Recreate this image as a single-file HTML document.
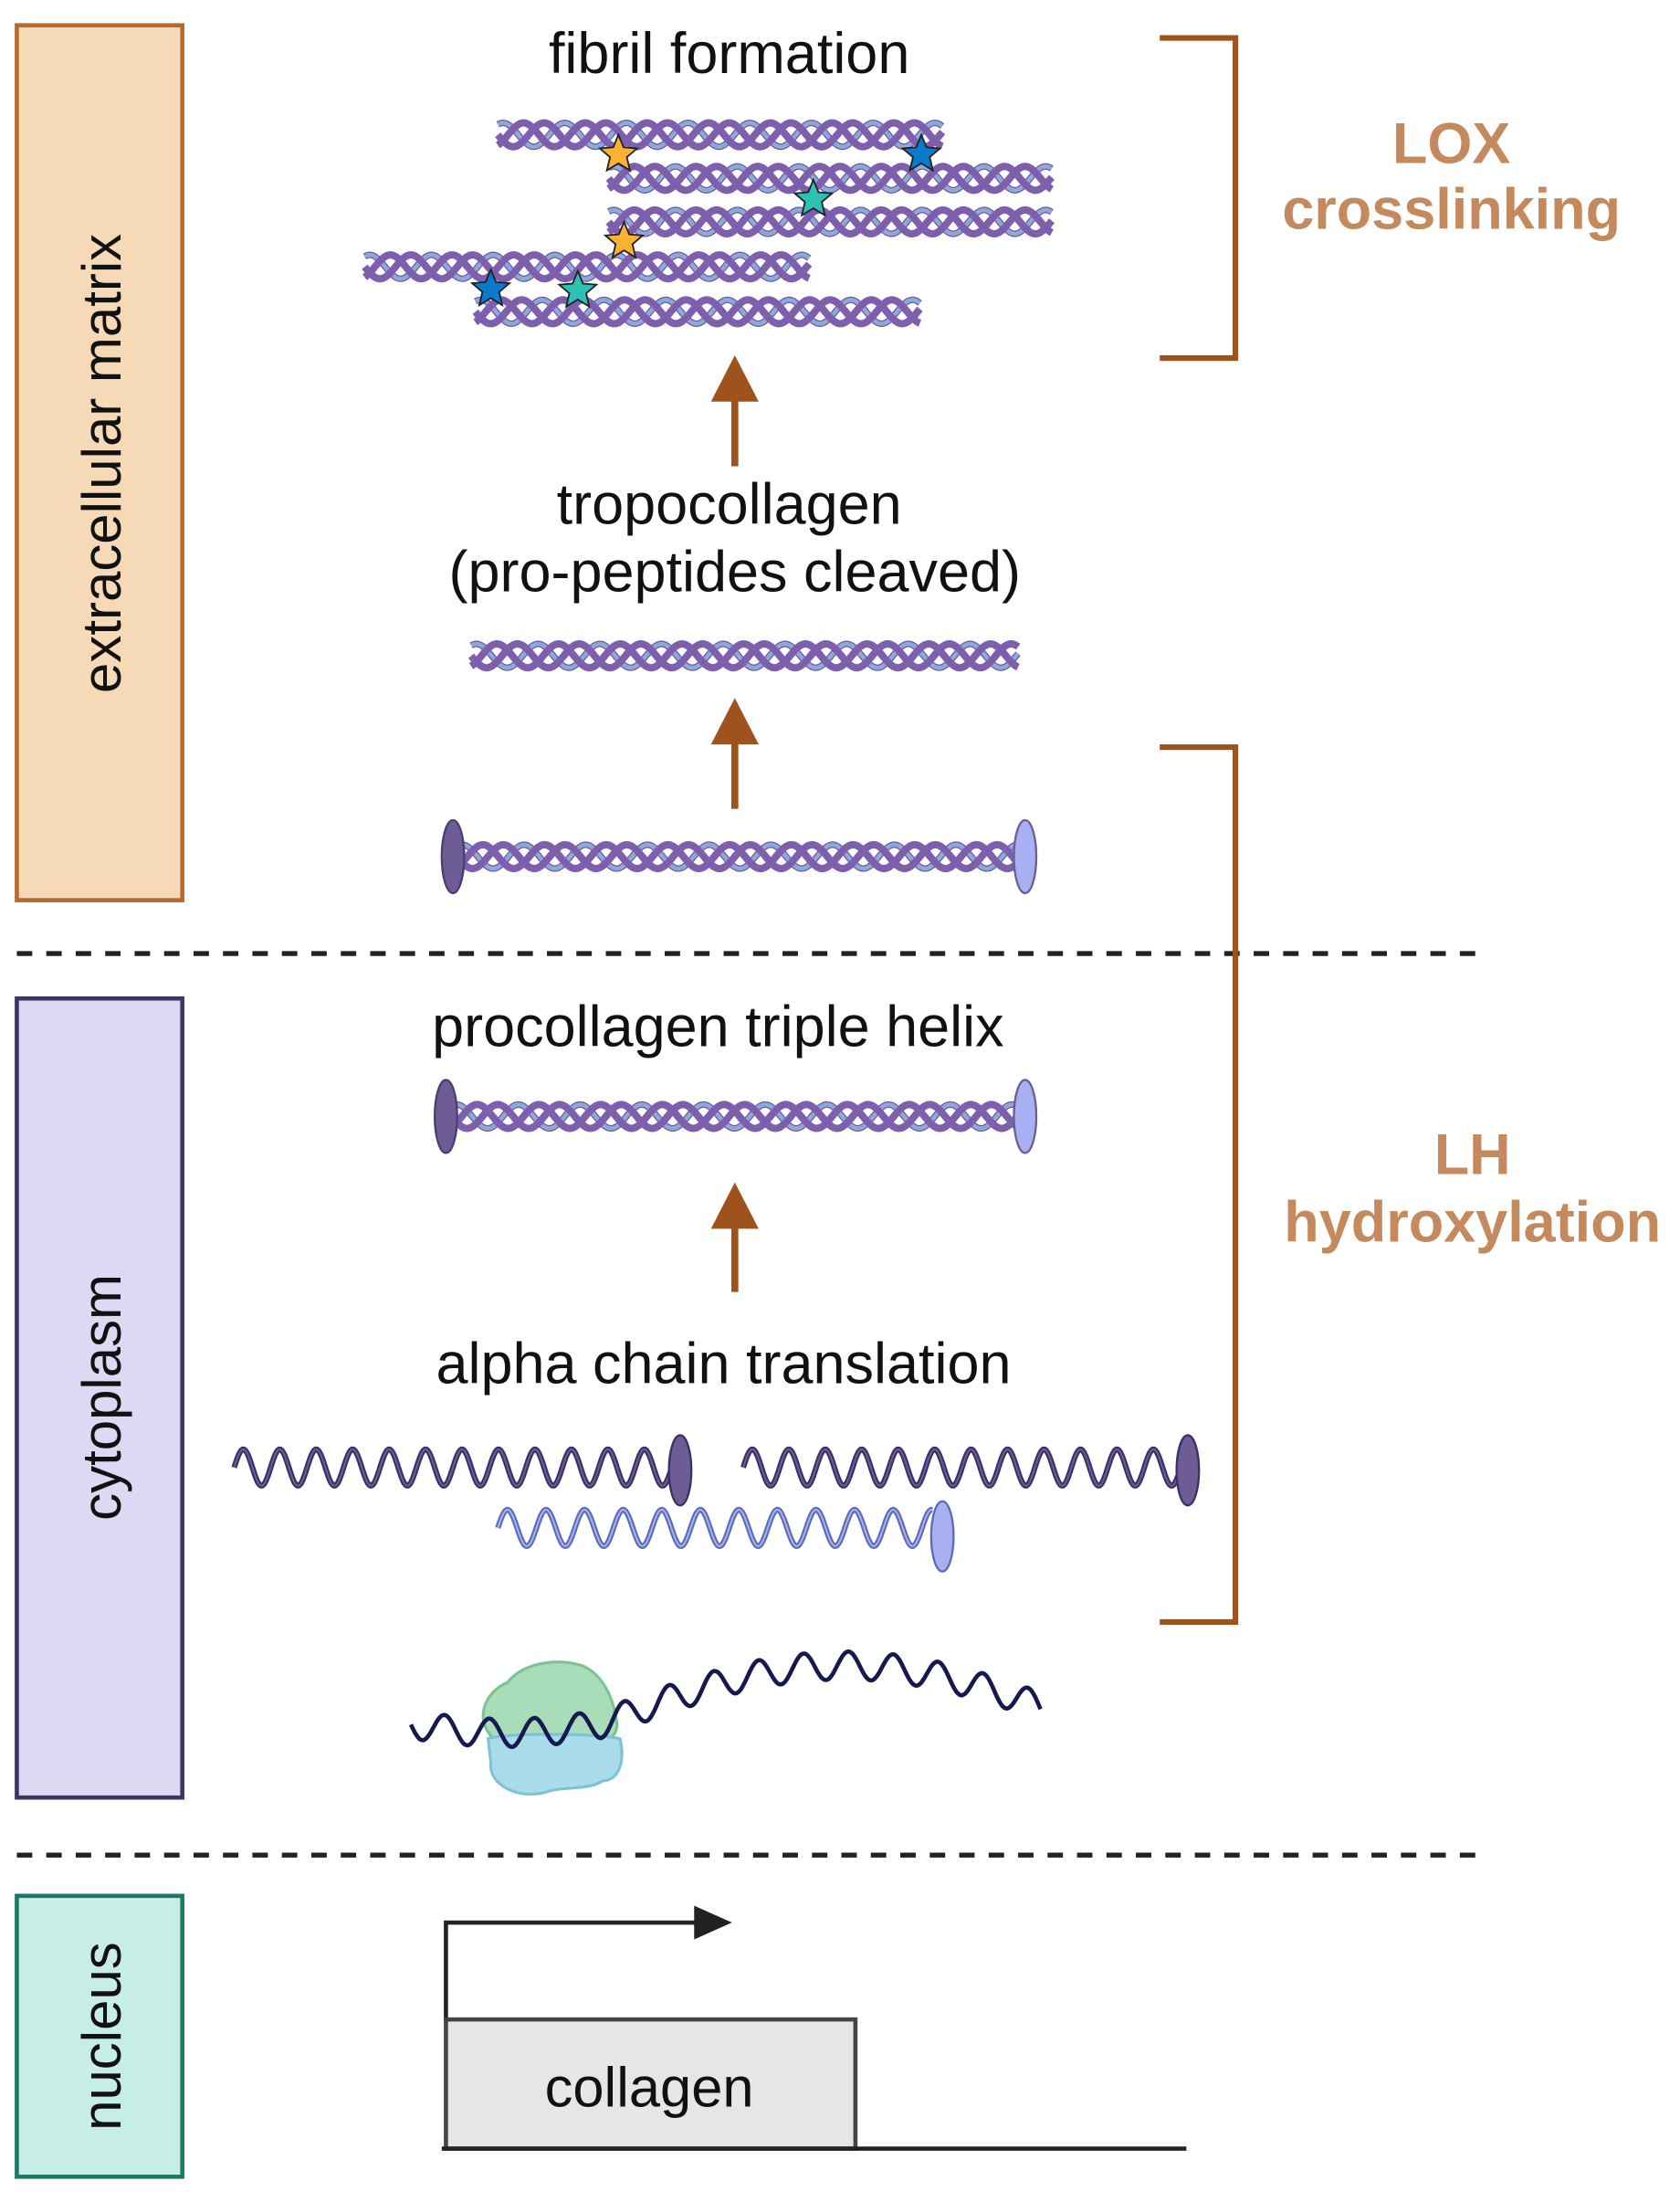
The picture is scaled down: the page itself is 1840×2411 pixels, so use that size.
<!DOCTYPE html>
<html><head><meta charset="utf-8"><style>
html,body{margin:0;padding:0;background:#fff;}
svg{display:block;}
text{font-family:"Liberation Sans",sans-serif;}
</style></head><body>
<svg id="s" width="1840" height="2411" viewBox="0 0 1198 1568" preserveAspectRatio="none" xmlns="http://www.w3.org/2000/svg">
<rect x="12" y="18" width="118" height="623" fill="#f6d9b7" stroke="#b8692c" stroke-width="3"/>
<text transform="translate(86,330) rotate(-90)" text-anchor="middle" font-size="39" fill="#111">extracellular matrix</text>
<rect x="12" y="711" width="118" height="569" fill="#ddd8f3" stroke="#3e3566" stroke-width="3"/>
<text transform="translate(86,995) rotate(-90)" text-anchor="middle" font-size="39" fill="#111">cytoplasm</text>
<rect x="12" y="1350" width="118" height="200" fill="#c6ede6" stroke="#1b7a66" stroke-width="3"/>
<text transform="translate(86,1450) rotate(-90)" text-anchor="middle" font-size="39" fill="#111">nucleus</text>
<line x1="12" y1="679" x2="1060" y2="679" stroke="#222" stroke-width="3.5" stroke-dasharray="11,10"/>
<line x1="12" y1="1321" x2="1060" y2="1321" stroke="#222" stroke-width="3.5" stroke-dasharray="11,10"/>
<polyline points="827,27 881,27 881,255 827,255" fill="none" stroke="#a0521c" stroke-width="4"/>
<polyline points="827,532 881,532 881,1155 827,1155" fill="none" stroke="#a0521c" stroke-width="4"/>
<text x="1035" y="116" text-anchor="middle" font-size="41" font-weight="bold" fill="#c48a5e">LOX</text>
<text x="1035" y="163" text-anchor="middle" font-size="41" font-weight="bold" fill="#c48a5e">crosslinking</text>
<text x="1050" y="836" text-anchor="middle" font-size="41" font-weight="bold" fill="#c48a5e">LH</text>
<text x="1050" y="884" text-anchor="middle" font-size="41" font-weight="bold" fill="#c48a5e">hydroxylation</text>
<text x="520" y="52" text-anchor="middle" font-size="41" fill="#111">fibril formation</text>
<text x="520" y="373" text-anchor="middle" font-size="41" fill="#111">tropocollagen</text>
<text x="524" y="421" text-anchor="middle" font-size="41" fill="#111">(pro-peptides cleaved)</text>
<text x="512" y="745" text-anchor="middle" font-size="41" fill="#111">procollagen triple helix</text>
<text x="516" y="985" text-anchor="middle" font-size="41" fill="#111">alpha chain translation</text>
<g fill="#a0521c" stroke="#a0521c">
<line x1="524" y1="332" x2="524" y2="282" stroke-width="5"/><polygon points="524,253 507,286 541,286" stroke="none"/>
<line x1="524" y1="576" x2="524" y2="526" stroke-width="5"/><polygon points="524,497 507,530 541,530" stroke="none"/>
<line x1="524" y1="920" x2="524" y2="871" stroke-width="5"/><polygon points="524,842 507,875 541,875" stroke="none"/>
</g>
<g id="helices"></g>
<g id="chains"></g>
<path d="M352,1238 C338,1225 345,1205 362,1198 C372,1185 395,1180 415,1186 C430,1192 438,1210 440,1228 C440,1240 425,1245 400,1243 C380,1246 360,1245 352,1238 Z" fill="#a9dcb9" stroke="#7cc391" stroke-width="2"/>
<path d="M348,1238 C360,1234 420,1234 442,1238 C446,1252 442,1268 430,1268 C420,1275 400,1272 390,1276 C368,1282 348,1270 350,1255 Z" fill="#a8dcea" stroke="#7fc2d4" stroke-width="2"/>
<path id="mrna" fill="none" stroke="#16184f" stroke-width="3"/>
<polyline points="318,1440 318,1369 497,1369" fill="none" stroke="#222" stroke-width="3"/>
<polygon points="522,1369 495,1357 495,1381" fill="#222"/>
<rect x="318" y="1438" width="292" height="92" fill="#e6e6e6" stroke="#444" stroke-width="3"/>
<text x="463" y="1500" text-anchor="middle" font-size="40" fill="#111">collagen</text>
<line x1="315" y1="1530" x2="846" y2="1530" stroke="#222" stroke-width="3"/>
<g id="stars"></g>
</svg>
<script>
var NS="http://www.w3.org/2000/svg";
function el(t,a,p){var e=document.createElementNS(NS,t);for(var k in a)e.setAttribute(k,a[k]);p.appendChild(e);return e;}
function sinPath(x0,x1,cy,amp,per,ph){var d="";for(var x=x0;x<=x1;x+=1){var y=cy+amp*Math.sin((x-x0)/per*2*Math.PI+ph);d+=(x==x0?"M":"L")+x.toFixed(1)+","+y.toFixed(2);}return d;}
var H=document.getElementById("helices");
function helix(x0,x1,cy){
  var P=44,A=8.5;
  el("path",{d:sinPath(x0,x1,cy,A,P,4*Math.PI/3),fill:"none",stroke:"#6a5899",'stroke-width':4.6},H);
  el("path",{d:sinPath(x0,x1,cy,A,P,4*Math.PI/3),fill:"none",stroke:"#8fa8dc",'stroke-width':3},H);
  [0,2*Math.PI/3].forEach(function(p){el("path",{d:sinPath(x0,x1,cy,A,P,p),fill:"none",stroke:"#7d5fae",'stroke-width':5.2},H);});
}
helix(355,672,96);helix(434,750,127);helix(434,750,158);helix(260,577,190);helix(339,656,222);
helix(336,726,467);helix(326,728,610);helix(322,728,795);
el("ellipse",{cx:323,cy:610,rx:8,ry:26,fill:"#6e5c94",stroke:"#4b3d75",'stroke-width':1.5},H);
el("ellipse",{cx:731,cy:610,rx:8,ry:26,fill:"#a8b0f2",stroke:"#6e5c94",'stroke-width':1.5},H);
el("ellipse",{cx:318,cy:795,rx:8,ry:26,fill:"#6e5c94",stroke:"#4b3d75",'stroke-width':1.5},H);
el("ellipse",{cx:731,cy:795,rx:8,ry:26,fill:"#a8b0f2",stroke:"#6e5c94",'stroke-width':1.5},H);
var C=document.getElementById("chains");
function chain(x0,x1,cy,col,inner,ec,ex,ey,per){
  el("path",{d:sinPath(x0,x1,cy,13,per,Math.PI),fill:"none",stroke:col,'stroke-width':4},C);
  el("path",{d:sinPath(x0,x1,cy,13,per,Math.PI),fill:"none",stroke:inner,'stroke-width':1.3},C);
  el("ellipse",{cx:ex,cy:ey,rx:8,ry:25,fill:ec,stroke:col,'stroke-width':1.5},C);
}
chain(167,478,1045,"#3a2f66","#6e5c94","#6e5c94",485,1047,26);
chain(530,840,1045,"#3a2f66","#6e5c94","#6e5c94",847,1047,26);
chain(355,665,1088,"#5b6bb5","#a8b0f2","#a8b0f2",672,1094,27.5);
var d="";for(var x=293;x<=742;x++){var t=(x-293)/449;
var base;
if(t<0.3) base=1228+6*Math.sin(t/0.3*Math.PI);
else base=1228-42*Math.sin((t-0.3)/0.7*Math.PI*0.9);
var y=base+10*Math.sin((x-293)/32*2*Math.PI);d+=(x==293?"M":"L")+x+","+y.toFixed(1);}
document.getElementById("mrna").setAttribute("d",d);
var S=document.getElementById("stars");
function star(cx,cy,r,f){var p=[];for(var i=0;i<10;i++){var a=-Math.PI/2+i*Math.PI/5;var rr=i%2?r*0.45:r;p.push((cx+rr*Math.cos(a)).toFixed(1)+","+(cy+rr*Math.sin(a)).toFixed(1));}el("polygon",{points:p.join(" "),fill:f,stroke:"#222",'stroke-width':1.2},S);}
star(441,110,14,"#fbb233");star(445,172,14,"#fbb233");
star(657,110,14,"#0a7acc");star(350,206,14,"#0a7acc");
star(580,142,14,"#2fc0b4");star(412,207,14,"#2fc0b4");
</script>
</body></html>
